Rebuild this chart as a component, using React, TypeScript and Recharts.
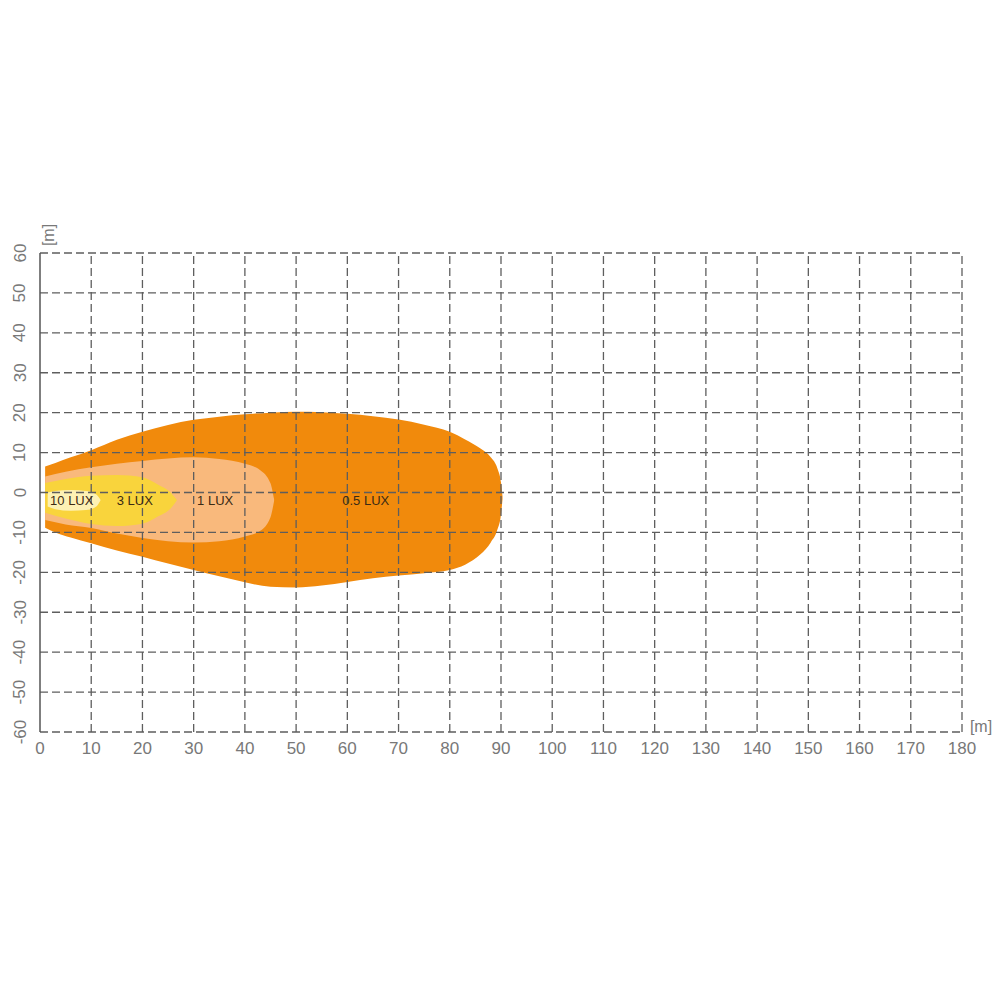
import React from 'react';
import {
  ComposedChart,
  Area,
  Scatter,
  XAxis,
  YAxis,
  ReferenceLine,
  Label,
} from 'recharts';

// isolux contours, [x, low, high] in metres
const halfLux = [
  { x: 1, range: [-8.8, 6.5] },
  { x: 3, range: [-10, 7.4] },
  { x: 6, range: [-11.3, 8.8] },
  { x: 10, range: [-12.7, 10.6] },
  { x: 15, range: [-14.5, 13.2] },
  { x: 20, range: [-16.1, 15.2] },
  { x: 25, range: [-17.8, 16.9] },
  { x: 30, range: [-19.4, 18.2] },
  { x: 35, range: [-21, 19] },
  { x: 40, range: [-22.5, 19.6] },
  { x: 45, range: [-23.6, 20] },
  { x: 50, range: [-23.8, 20.2] },
  { x: 55, range: [-23.3, 20.1] },
  { x: 60, range: [-22.4, 19.7] },
  { x: 65, range: [-21.5, 19.1] },
  { x: 70, range: [-20.8, 18.3] },
  { x: 75, range: [-20.2, 17] },
  { x: 80, range: [-19.4, 15.2] },
  { x: 83, range: [-18.1, 13.3] },
  { x: 86, range: [-15.5, 11] },
  { x: 88, range: [-12.5, 8.8] },
  { x: 89.3, range: [-9.3, 6] },
  { x: 90, range: [-5.5, 2.5] },
  { x: 90.3, range: [-1.6, -1] },
];

const oneLux = [
  { x: 1, range: [-6.9, 4] },
  { x: 5, range: [-8, 5.2] },
  { x: 10, range: [-8.9, 6.3] },
  { x: 15, range: [-10.3, 7.2] },
  { x: 20, range: [-11.4, 7.9] },
  { x: 25, range: [-12.2, 8.5] },
  { x: 30, range: [-12.5, 8.8] },
  { x: 35, range: [-12.2, 8.4] },
  { x: 40, range: [-11, 7.2] },
  { x: 43, range: [-9.6, 5.6] },
  { x: 45, range: [-6.2, 2.3] },
  { x: 45.7, range: [-2.1, -1.7] },
];

const threeLux = [
  { x: 1, range: [-5.1, 2.4] },
  { x: 5, range: [-6.5, 3.4] },
  { x: 10, range: [-7.9, 4.2] },
  { x: 15, range: [-8.4, 4.4] },
  { x: 20, range: [-7.8, 3.8] },
  { x: 23, range: [-6, 2] },
  { x: 25.5, range: [-4, 0] },
  { x: 26.7, range: [-2, -1.8] },
];

const tenLux = [
  { x: 1.5, range: [-3.5, 0] },
  { x: 3, range: [-4.2, 0.4] },
  { x: 6, range: [-4.6, 0.6] },
  { x: 9, range: [-4.4, 0.4] },
  { x: 11, range: [-3.5, -0.5] },
  { x: 11.8, range: [-2, -1.8] },
];

const zoneLabels = [
  { x: 6.2, y: -1.9, text: '10 LUX' },
  { x: 18.5, y: -1.9, text: '3 LUX' },
  { x: 34.2, y: -1.9, text: '1 LUX' },
  { x: 63.6, y: -2.1, text: '0.5 LUX' },
];

const xTicks = [0, 10, 20, 30, 40, 50, 60, 70, 80, 90, 100, 110, 120, 130, 140, 150, 160, 170, 180];
const yTicks = [-60, -50, -40, -30, -20, -10, 0, 10, 20, 30, 40, 50, 60];

const gridColor = '#5e5e5e';
const tickColor = '#787878';

const XTick = (props: any) => (
  <text x={props.x} y={props.y + 16} textAnchor="middle" dominantBaseline="central"
    fontSize={17} fill={tickColor}>
    {props.payload.value}
  </text>
);

const YTick = (props: any) => {
  const cx = props.x - 20;
  return (
    <text x={cx} y={props.y} transform={`rotate(-90 ${cx} ${props.y})`} textAnchor="middle"
      dominantBaseline="central" fontSize={17} fill={tickColor}>
      {props.payload.value}
    </text>
  );
};

const ZoneText = (props: any) => (
  <text x={props.cx} y={props.cy} textAnchor="middle" dominantBaseline="central"
    fontSize={13} fill="#3b2a14">
    {props.payload.text}
  </text>
);

export default function App() {
  return (
    <div style={{ position: 'absolute', left: 0, top: 0, width: 1000, height: 1000, background: '#fff', fontFamily: 'Liberation Sans, Arial, sans-serif' }}>
      <ComposedChart width={1000} height={1000} margin={{ top: 253, right: 38, bottom: 238, left: 0 }}>
        <XAxis type="number" dataKey="x" domain={[0, 180]} ticks={xTicks} interval={0}
          axisLine={false} tickLine={false} tickSize={0} tickMargin={0} height={30} tick={<XTick />}>
          <Label content={() => (
            <text x={981} y={726} textAnchor="middle" dominantBaseline="central" fontSize={16} fill={tickColor}>[m]</text>
          )} />
        </XAxis>
        <YAxis type="number" domain={[-60, 60]} ticks={yTicks} interval={0} width={40}
          axisLine={{ stroke: '#555', strokeWidth: 1.5 }} tickLine={false} tickSize={0} tickMargin={0} tick={<YTick />}>
          <Label content={() => (
            <text x={48} y={235} transform="rotate(-90 48 235)" textAnchor="middle" dominantBaseline="central"
              fontSize={16} fill={tickColor}>[m]</text>
          )} />
        </YAxis>

        <Area data={halfLux} dataKey="range" type="monotone" stroke="none" fill="#f18a0c" fillOpacity={1} isAnimationActive={false} />
        <Area data={oneLux} dataKey="range" type="monotone" stroke="none" fill="#f9b97c" fillOpacity={1} isAnimationActive={false} />
        <Area data={threeLux} dataKey="range" type="monotone" stroke="none" fill="#f9d43c" fillOpacity={1} isAnimationActive={false} />
        <Area data={tenLux} dataKey="range" type="monotone" stroke="none" fill="#fdf1b4" fillOpacity={1} isAnimationActive={false} />

        {xTicks.filter((v) => v > 0).map((v) => (
          <ReferenceLine key={`vx${v}`} x={v} stroke={gridColor} strokeWidth={1.3} strokeDasharray="8 4" />
        ))}
        {yTicks.map((v) => (
          <ReferenceLine key={`hy${v}`} y={v} stroke={gridColor} strokeWidth={1.3} strokeDasharray="8 4" />
        ))}

        <Scatter data={zoneLabels} dataKey="y" shape={<ZoneText />} isAnimationActive={false} />
      </ComposedChart>
    </div>
  );
}
